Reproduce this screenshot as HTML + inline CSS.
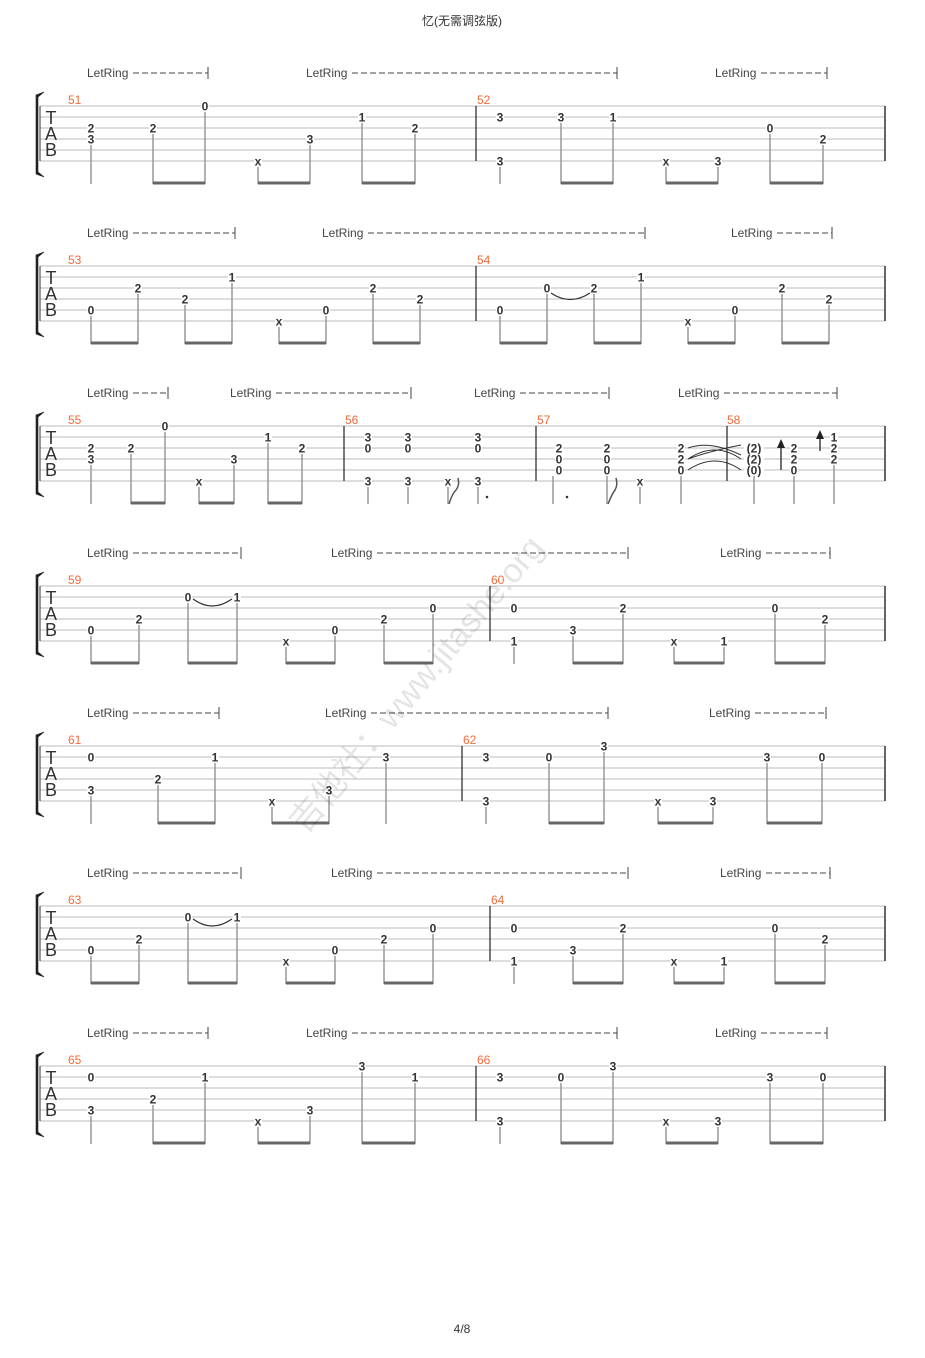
<!DOCTYPE html>
<html><head><meta charset="utf-8"><style>
body{margin:0;background:#fff}
svg{display:block}
text{font-family:"Liberation Sans","Noto Sans CJK SC",sans-serif}
.n{font-size:12px;font-weight:bold;fill:#333;text-anchor:middle}
.lr{font-size:12px;fill:#444}
.mn{font-size:12px;fill:#f26b3a}
</style></head><body>
<svg id="s" width="925" height="1358" xmlns="http://www.w3.org/2000/svg">
<text x="462" y="25" font-size="12" fill="#333" text-anchor="middle">忆(无需调弦版)</text>
<text x="462" y="1333" font-size="12" fill="#333" text-anchor="middle">4/8</text>
</svg>
<script>
const S=document.getElementById('s');let h='';
const L=(x1,y1,x2,y2,c,w)=>h+=`<line x1="${x1}" y1="${y1}" x2="${x2}" y2="${y2}" stroke="${c}" stroke-width="${w}"/>`;
const T=(x,y,t,c)=>h+=`<text x="${x}" y="${y}" class="${c}">${t}</text>`;
function sys(top,meas,bars,notes,beams,lr,singles){
  for(let i=0;i<6;i++)L(40,top+i*11,885,top+i*11,'#bbb',1);
  L(40,top,40,top+55,'#333',1);L(885,top,885,top+55,'#333',1.5);
  h+=`<path d="M44 ${top-14} L36 ${top-11} L36 ${top+68} L44 ${top+71} L38 ${top+66} L38 ${top-9} Z" fill="#222" stroke="#222" stroke-width="0.6"/>`;
  h+=`<text x="51" y="${top+18}" font-size="18" fill="#333" text-anchor="middle">T</text><text x="51" y="${top+34}" font-size="18" fill="#333" text-anchor="middle">A</text><text x="51" y="${top+50}" font-size="18" fill="#333" text-anchor="middle">B</text>`;
  bars.forEach(b=>L(b,top,b,top+55,'#222',1.2));
  meas.forEach(m=>T(m[0],top-2,m[1],'mn'));
  let cols={};
  notes.forEach(n=>{const[x,s,t]=n;const y=top+(s-1)*11;
    h+=`<rect x="${x-(t.length>1?10:4)}" y="${y-5}" width="${t.length>1?20:8}" height="10" fill="#fff"/>`;
    T(x,y+4.5,t,'n');cols[x]=Math.max(cols[x]||0,y);});
  for(const x in cols){if(singles&&singles.includes(+x))continue;L(x,cols[x]+6,x,top+78,'#999',1.5);}
  beams.forEach(b=>L(b[0],top+77,b[1],top+77,'#666',3));
  lr.forEach(r=>{T(r[0],top-29,'LetRing','lr');const x0=r[0]+46;
    h+=`<line x1="${x0}" y1="${top-33}" x2="${r[1]}" y2="${top-33}" stroke="#444" stroke-dasharray="6,3"/>`;L(r[1],top-39,r[1],top-27,'#444',1);});
}
const s1=(top,a,b,N)=>sys(top,[[68,a],[477,b]],[476],N,[[153,205],[258,310],[362,415],[561,613],[666,718],[770,823]],[[87,208],[306,617],[715,827]]);
s1(106,'51','52',[[91,3,'2'],[91,4,'3'],[153,3,'2'],[205,1,'0'],[258,6,'x'],[310,4,'3'],[362,2,'1'],[415,3,'2'],[500,2,'3'],[500,6,'3'],[561,2,'3'],[613,2,'1'],[666,6,'x'],[718,6,'3'],[770,3,'0'],[823,4,'2']]);
sys(266,[[68,'53'],[477,'54']],[476],[[91,5,'0'],[138,3,'2'],[185,4,'2'],[232,2,'1'],[279,6,'x'],[326,5,'0'],[373,3,'2'],[420,4,'2'],[500,5,'0'],[547,3,'0'],[594,3,'2'],[641,2,'1'],[688,6,'x'],[735,5,'0'],[782,3,'2'],[829,4,'2']],
 [[91,138],[185,232],[279,326],[373,420],[500,547],[594,641],[688,735],[782,829]],[[87,235],[322,645],[731,832]]);
h+=`<path d="M551 293 Q570 306 590 293" fill="none" stroke="#333" stroke-width="1.3"/>`;
sys(426,[[68,'55'],[345,'56'],[537,'57'],[727,'58']],[344,536,727],
 [[91,3,'2'],[91,4,'3'],[131,3,'2'],[165,1,'0'],[199,6,'x'],[234,4,'3'],[268,2,'1'],[302,3,'2'],
  [368,2,'3'],[368,3,'0'],[368,6,'3'],[408,2,'3'],[408,3,'0'],[408,6,'3'],[448,6,'x'],[478,2,'3'],[478,3,'0'],[478,6,'3'],
  [559,3,'2'],[559,4,'0'],[559,5,'0'],[607,3,'2'],[607,4,'0'],[607,5,'0'],[640,6,'x'],[681,3,'2'],[681,4,'2'],[681,5,'0'],
  [754,3,'(2)'],[754,4,'(2)'],[754,5,'(0)'],[794,3,'2'],[794,4,'2'],[794,5,'0'],[834,2,'1'],[834,3,'2'],[834,4,'2']],
 [[131,165],[199,234],[268,302]],[[87,168],[230,411],[474,609],[678,837]],[559]);
L(553,476,553,504,'#999',1.5);
h+=`<path d="M449 504 Q452 494 456 490 Q460 485 458 478" fill="none" stroke="#555" stroke-width="1.5"/><path d="M608 504 Q612 494 615 490 Q618 485 616 478" fill="none" stroke="#555" stroke-width="1.5"/>`;
h+=`<circle cx="487" cy="497" r="1.3" fill="#333"/><circle cx="567" cy="497" r="1.3" fill="#333"/>`;
h+=`<path d="M688 448 Q710 440 741 455 M688 459 Q710 451 741 445 M688 459 Q715 441 741 459 M688 470 Q715 452 741 470" fill="none" stroke="#333" stroke-width="1"/>`;
L(781,470,781,446,'#222',1.3);h+=`<path d="M777 448 L781 439 L785 448Z" fill="#222"/>`;
L(820,451,820,437,'#222',1.3);h+=`<path d="M816 439 L820 430 L824 439Z" fill="#222"/>`;
const s4=(top,a,b)=>{sys(top,[[68,a],[491,b]],[490],[[91,5,'0'],[139,4,'2'],[188,2,'0'],[237,2,'1'],[286,6,'x'],[335,5,'0'],[384,4,'2'],[433,3,'0'],[514,3,'0'],[514,6,'1'],[573,5,'3'],[623,3,'2'],[674,6,'x'],[724,6,'1'],[775,3,'0'],[825,4,'2']],
 [[91,139],[188,237],[286,335],[384,433],[573,623],[674,724],[775,825]],[[87,241],[331,628],[720,830]]);
 h+=`<path d="M193 ${top+13} Q212 ${top+27} 232 ${top+13}" fill="none" stroke="#333" stroke-width="1.3"/>`;};
s4(586,'59','60');
sys(746,[[68,'61'],[463,'62']],[462],[[91,2,'0'],[91,5,'3'],[158,4,'2'],[215,2,'1'],[272,6,'x'],[329,5,'3'],[386,2,'3'],[486,2,'3'],[486,6,'3'],[549,2,'0'],[604,1,'3'],[658,6,'x'],[713,6,'3'],[767,2,'3'],[822,2,'0']],
 [[158,215],[272,329],[549,604],[658,713],[767,822]],[[87,219],[325,608],[709,826]]);
s4(906,'63','64');
s1(1066,'65','66',[[91,2,'0'],[91,5,'3'],[153,4,'2'],[205,2,'1'],[258,6,'x'],[310,5,'3'],[362,1,'3'],[415,2,'1'],[500,2,'3'],[500,6,'3'],[561,2,'0'],[613,1,'3'],[666,6,'x'],[718,6,'3'],[770,2,'3'],[823,2,'0']]);
h+=`<text x="0" y="0" font-size="34" fill="#000" opacity="0.1" transform="translate(305,835) rotate(-50)">吉他社：www.jitashe.org</text>`;
S.insertAdjacentHTML('beforeend',h);
</script>
</body></html>
